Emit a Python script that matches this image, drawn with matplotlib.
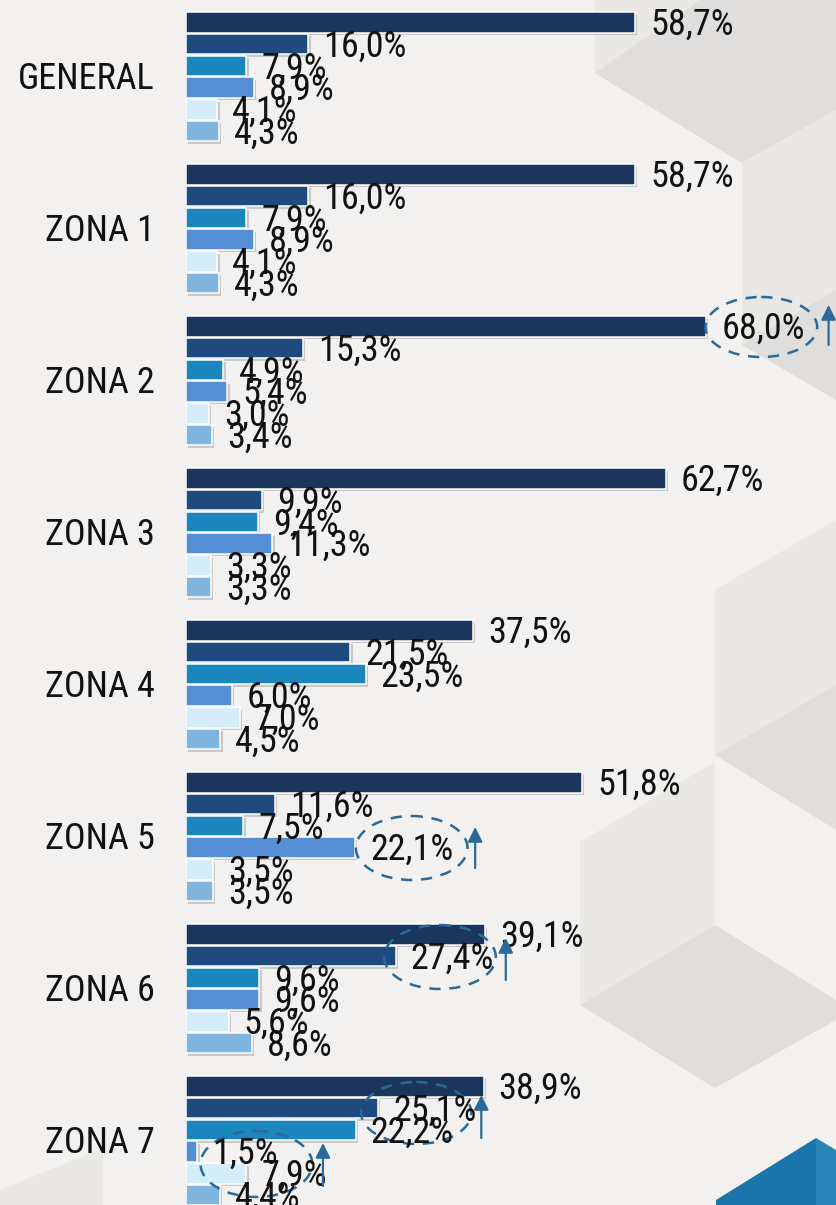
import matplotlib
matplotlib.use("Agg")
import matplotlib.pyplot as plt
import matplotlib.patheffects as pe
from matplotlib import font_manager
from matplotlib.textpath import TextToPath
from matplotlib.patches import Ellipse, Polygon

# data
zones = ['GENERAL', 'ZONA 1', 'ZONA 2', 'ZONA 3', 'ZONA 4', 'ZONA 5', 'ZONA 6', 'ZONA 7']
general = [58.7, 16.0, 7.9, 8.9, 4.1, 4.3]
zona1 = [58.7, 16.0, 7.9, 8.9, 4.1, 4.3]
zona2 = [68.0, 15.3, 4.9, 5.4, 3.0, 3.4]
zona3 = [62.7, 9.9, 9.4, 11.3, 3.3, 3.3]
zona4 = [37.5, 21.5, 23.5, 6.0, 7.0, 4.5]
zona5 = [51.8, 11.6, 7.5, 22.1, 3.5, 3.5]
zona6 = [39.1, 27.4, 9.6, 9.6, 5.6, 8.6]
zona7 = [38.9, 25.1, 22.2, 1.5, 7.9, 4.4]
values = [general, zona1, zona2, zona3, zona4, zona5, zona6, zona7]

colors = ['#1a365d', '#1f4a7e', '#1a86bd', '#568ed6', '#d5ecf9', '#7fb5de']

# highlighted labels: (zone, ellipse x %, ellipse y px, ellipse w %, ellipse h px, arrow x %, arrow y0, arrow y1)
callouts = [
    (2, 75.2, 327, 14.6, 60, 84.0, 345, 305),
    (5, 29.5, 848, 14.6, 64, 37.8, 868, 827),
    (6, 33.2, 957, 14.6, 64, 41.8, 980, 938),
    (7, 30.1, 1113, 14.4, 62, 38.6, 1138, 1095),
    (7, 9.2, 1164, 14.6, 66, 17.9, 1186, 1143),
]

W, H = 836, 1205

# the original uses a narrow DIN-like face: among the plain sans families, pick the one whose
# proportions (width of "58,7%" / digit height) are closest to it (83 px / 26 px)
t2p = TextToPath()
target_ratio = 83 / 26
plain = ('noto sans', 'open sans', 'roboto', 'dejavu sans', 'liberation sans', 'lato', 'inter')
widths = ('', 'narrow', 'condensed', 'semicondensed', 'semi condensed', 'extracondensed', 'extra condensed')
best = None
for f in font_manager.fontManager.ttflist:
    name = f.name.lower()
    if f.style != 'normal' or f.weight not in (400, 'normal', 'regular'):
        continue
    base = next((b for b in plain if name.startswith(b)), None)
    if base is None or name[len(base):].strip() not in widths:
        continue
    try:
        p = font_manager.FontProperties(fname=f.fname, size=26)
        w = t2p.get_text_width_height_descent('58,7%', p, ismath=False)[0]
        _, h, d = t2p.get_text_width_height_descent('8', p, ismath=False)
    except Exception:
        continue
    hh = h - d
    if hh <= 0:
        continue
    score = abs(w / hh - target_ratio)
    if best is None or score < best[0]:
        best = (score, f.fname, hh)

if best is not None:
    size = 26 * (26 * 72 / 100) / best[2]
    fp = font_manager.FontProperties(fname=best[1], size=size)
else:
    fp = font_manager.FontProperties(family='DejaVu Sans', size=20)

fig = plt.figure(figsize=(W / 100, H / 100), dpi=100)
fig.patch.set_facecolor('#f2f1ef')

# background hexagon shapes
bg = fig.add_axes([0, 0, 1, 1])
bg.set_xlim(0, W)
bg.set_ylim(H, 0)
bg.axis('off')
light = '#e9e8e4'
dark = '#dfdedc'
shapes = [
    ([(595, 0), (742, 0), (742, 163), (595, 73)], light),
    ([(595, 73), (700, 0), (836, 0), (836, 110), (742, 163)], dark),
    ([(742, 163), (836, 110), (836, 290), (742, 345)], light),
    ([(742, 345), (836, 290), (836, 400)], dark),
    ([(715, 590), (836, 520), (836, 685), (715, 755)], light),
    ([(715, 755), (836, 685), (836, 830)], dark),
    ([(580, 842), (715, 762), (715, 925), (580, 1005)], light),
    ([(580, 1005), (715, 925), (836, 1000), (836, 1020), (715, 1088)], dark),
    ([(0, 1190), (103, 1148), (103, 1205), (0, 1205)], light),
    ([(716, 1205), (716, 1200), (816, 1138), (816, 1205)], '#1a75aa'),
    ([(816, 1138), (836, 1150), (836, 1205), (816, 1205)], '#2a86b9'),
]
for pts, c in shapes:
    bg.add_patch(Polygon(pts, closed=True, facecolor=c, edgecolor='none'))

# bars
px_per_pct = 7.65
x0 = 186
ax = fig.add_axes([x0 / W, 0, (W - x0) / W, 1])
ax.set_xlim(0, (W - x0) / px_per_pct)
ax.set_ylim(H, 0)
ax.axis('off')

group_pitch = 152
bar_pitch = 21.7
shadow = [pe.SimplePatchShadow(offset=(1.6, -1.8), shadow_rgbFace='#8a8a8a', alpha=0.38), pe.Normal()]

for g, (zone, vals) in enumerate(zip(zones, values)):
    top = 12 + g * group_pitch
    centers = [top + 10.5 + b * bar_pitch for b in range(len(vals))]
    bars = ax.barh(centers, vals, height=20.5, color=colors, edgecolor='white', linewidth=1.1)
    for bar in bars:
        bar.set_path_effects(shadow)
    for yc, v in zip(centers, vals):
        ax.text(v + 15 / px_per_pct, yc + 12.5, f'{v:.1f}%'.replace('.', ','),
                fontproperties=fp, ha='left', va='baseline', color='#111111')
    bg.text(155, top + 77, zone, fontproperties=fp, ha='right', va='baseline', color='#111111')

for g, ex, ey, ew, eh, axx, ay0, ay1 in callouts:
    ax.add_patch(Ellipse((ex, ey), ew, eh, fill=False, edgecolor='#2a6a9a',
                         linewidth=1.8, linestyle=(0, (4.5, 3.5))))
    ax.annotate('', xy=(axx, ay1), xytext=(axx, ay0),
                arrowprops=dict(arrowstyle='-|>', color='#2a6a9a', lw=1.6,
                                mutation_scale=22, shrinkA=0, shrinkB=0))

fig.savefig('out.png', dpi=100, facecolor=fig.get_facecolor())
